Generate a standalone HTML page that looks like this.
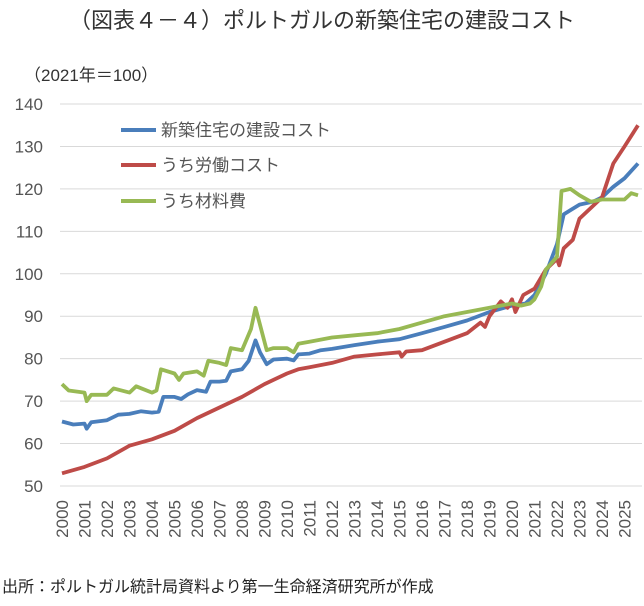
<!DOCTYPE html>
<html><head><meta charset="utf-8"><style>
html,body{margin:0;padding:0;background:#fff;}
svg text{font-family:"Liberation Sans","Noto Sans CJK JP",sans-serif;fill:#555;}
</style></head><body>
<svg id="s" width="644" height="601" xmlns="http://www.w3.org/2000/svg">
<text x="322" y="28" text-anchor="middle" font-size="22" style="fill:#333">（図表４－４）ポルトガルの新築住宅の建設コスト</text>
<text x="24" y="81" font-size="17" style="fill:#333">（2021年＝100）</text>
<g id="grid"></g>
<g id="series"></g>
<line x1="121" y1="130" x2="156" y2="130" stroke="#4a7ebb" stroke-width="4"/>
<line x1="121" y1="165" x2="156" y2="165" stroke="#be4b48" stroke-width="4"/>
<line x1="121" y1="201" x2="156" y2="201" stroke="#98b954" stroke-width="4"/>
<text x="161" y="136" font-size="17">新築住宅の建設コスト</text>
<text x="161" y="171" font-size="17">うち労働コスト</text>
<text x="161" y="207" font-size="17">うち材料費</text>
<text x="2" y="592" font-size="16" style="fill:#222">出所：ポルトガル統計局資料より第一生命経済研究所が作成</text>
</svg>
<script>
var NS="http://www.w3.org/2000/svg",s=document.getElementById('s');
function Y(v){return 486-(v-50)*4.244;}
function X(t){return 62+(t-2000)*22.5;}
var g=document.getElementById('grid');
for(var v=50;v<=140;v+=10){var l=document.createElementNS(NS,'line');l.setAttribute('x1',60);l.setAttribute('x2',642);l.setAttribute('y1',Y(v));l.setAttribute('y2',Y(v));l.setAttribute('stroke','#d9d9d9');l.setAttribute('stroke-width','1');g.appendChild(l);
var t=document.createElementNS(NS,'text');t.setAttribute('x',43);t.setAttribute('y',Y(v)+6);t.setAttribute('text-anchor','end');t.setAttribute('font-size','17');t.textContent=v;g.appendChild(t);}
for(var y=2000;y<=2025;y++){var t=document.createElementNS(NS,'text');var x=X(y)+6;t.setAttribute('transform','translate('+x+',500) rotate(-90)');t.setAttribute('text-anchor','end');t.setAttribute('font-size','17');t.textContent=y;g.appendChild(t);}
var blue=[[2000,65.2],[2000.5,64.5],[2001,64.7],[2001.1,63.5],[2001.3,65],[2002,65.5],[2002.5,66.8],[2003,67],[2003.5,67.6],[2004,67.3],[2004.3,67.5],[2004.5,71],[2005,71],[2005.3,70.5],[2005.6,71.6],[2006,72.6],[2006.4,72.2],[2006.6,74.6],[2007,74.6],[2007.3,74.8],[2007.5,77],[2008,77.5],[2008.3,79.5],[2008.6,84.3],[2008.8,81.5],[2009.1,78.7],[2009.4,79.8],[2010,80],[2010.3,79.6],[2010.5,81],[2011,81.2],[2011.5,82],[2012,82.3],[2013,83.2],[2014,84],[2015,84.6],[2016,86],[2017,87.5],[2018,89],[2019,91],[2020,92.5],[2020.6,93],[2021,95],[2021.5,100],[2022,107],[2022.3,114],[2022.6,115],[2023,116.3],[2023.6,117],[2024,118],[2024.5,120.5],[2025,122.5],[2025.6,126]];
var red=[[2000,53],[2001,54.5],[2002,56.5],[2003,59.5],[2004,61],[2005,63],[2006,66],[2007,68.5],[2008,71],[2009,74],[2010,76.5],[2010.5,77.5],[2011,78],[2012,79],[2013,80.5],[2014,81],[2015,81.5],[2015.1,80.5],[2015.3,81.7],[2016,82],[2017,84],[2018,86],[2018.6,88.5],[2018.8,87.5],[2019,90],[2019.5,93.5],[2019.8,92],[2020,94],[2020.15,91],[2020.5,95],[2021,96.5],[2021.5,101],[2022,103.5],[2022.1,102],[2022.3,106],[2022.7,108],[2023,113],[2023.5,115.5],[2024,118],[2024.5,126],[2025,130],[2025.6,135]];
var green=[[2000,74],[2000.3,72.5],[2001,72],[2001.1,70],[2001.3,71.5],[2002,71.5],[2002.3,73],[2003,72],[2003.3,73.5],[2004,72],[2004.2,72.5],[2004.4,77.5],[2005,76.5],[2005.2,75],[2005.4,76.5],[2006,77],[2006.3,76],[2006.5,79.5],[2007,79],[2007.3,78.5],[2007.5,82.5],[2008,82],[2008.4,87],[2008.6,92],[2008.8,88],[2009.1,82],[2009.4,82.5],[2010,82.5],[2010.3,81.5],[2010.5,83.5],[2011,84],[2012,85],[2013,85.5],[2014,86],[2015,87],[2016,88.5],[2017,90],[2018,91],[2019,92],[2020,93],[2020.4,92.5],[2020.8,93],[2021,94],[2021.3,97],[2021.5,101],[2022,104],[2022.2,119.5],[2022.6,120],[2023,118.5],[2023.5,117],[2024,117.5],[2024.5,117.5],[2025,117.5],[2025.3,119],[2025.6,118.5]];
var sg=document.getElementById('series');
[[blue,'#4a7ebb'],[red,'#be4b48'],[green,'#98b954']].forEach(function(p){var pl=document.createElementNS(NS,'polyline');pl.setAttribute('points',p[0].map(function(a){return X(a[0]).toFixed(1)+','+Y(a[1]).toFixed(1);}).join(' '));pl.setAttribute('fill','none');pl.setAttribute('stroke',p[1]);pl.setAttribute('stroke-width','3.8');pl.setAttribute('stroke-linejoin','round');sg.appendChild(pl);});
</script>
</body></html>
